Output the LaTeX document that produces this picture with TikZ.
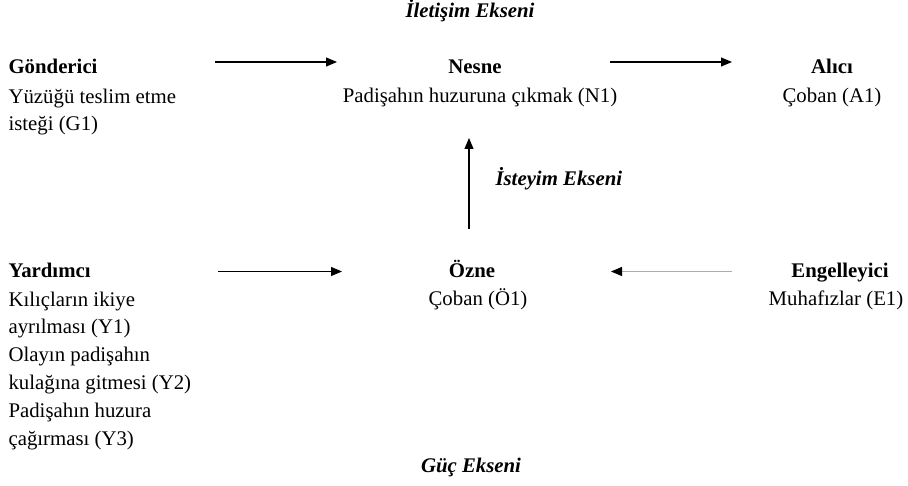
\documentclass[tikz,border=0pt]{standalone}
\usepackage{fontspec}
\setmainfont{Liberation Serif}
\usetikzlibrary{arrows.meta}

\begin{document}
\begin{tikzpicture}[x=1pt, y=-1pt, line width=1.1pt,
  main/.style = {inner sep=0pt, font=\fontsize{20.8}{27.8}\selectfont},
  head/.style = {main, font=\fontsize{20.8}{27.8}\selectfont\bfseries},
  axis/.style = {main, font=\fontsize{20.8}{27.8}\selectfont\bfseries\itshape},
  arr/.style = {-{Triangle[length=11pt, width=9pt]}}]
\useasboundingbox (0,0) rectangle (908,486);

% top row
\node[head, anchor=base west] (gond) at (8,74) {Gönderici};
\node[main, anchor=base west, align=left] (gondx) at (8,131) {Yüzüğü teslim etme\\isteği (G1)};
\node[head, anchor=base] (nesne) at (475,74) {Nesne};
\node[main, anchor=base] (nesnex) at (480,103) {Padişahın huzuruna çıkmak (N1)};
\node[head, anchor=base] (alici) at (832,74) {Alıcı};
\node[main, anchor=base] (alicix) at (832,103) {Çoban (A1)};

% bottom row (base = last line)
\node[head, anchor=base west] (yard) at (8,278) {Yardımcı};
\node[main, anchor=base west, align=left] (yardx) at (8,445) {Kılıçların ikiye\\ayrılması (Y1)\\Olayın padişahın\\kulağına gitmesi (Y2)\\Padişahın huzura\\çağırması (Y3)};
\node[head, anchor=base] (ozne) at (472,278) {Özne};
\node[main, anchor=base] (oznex) at (478,306) {Çoban (Ö1)};
\node[head, anchor=base] (eng) at (840,278) {Engelleyici};
\node[main, anchor=base] (engx) at (836,306) {Muhafızlar (E1)};

% axes
\node[axis, anchor=base] (iletisim) at (470,18) {İletişim Ekseni};
\node[axis, anchor=base west] (isteyim) at (495,186) {İsteyim Ekseni};
\node[axis, anchor=base] (guc) at (471,472) {Güç Ekseni};

\draw[arr] ([shift={(207,-12)}]gond.base west) -- ([shift={(-138,-12)}]nesne.base);
\draw[arr] ([shift={(135,-12)}]nesne.base) -- ([shift={(-100,-12)}]alici.base);
\draw[arr] ([shift={(-3,-49)}]ozne.base) -- ([shift={(-11,35)}]nesnex.base);
\draw[arr] ([shift={(210,-6.5)}]yard.base west) -- ([shift={(-130,-6.5)}]ozne.base);
\draw[arr, gray!65, -{Triangle[length=11pt, width=9pt, color=black]}] ([shift={(-108,-6.5)}]eng.base) -- ([shift={(139,-6.5)}]ozne.base);
\end{tikzpicture}
\end{document}
